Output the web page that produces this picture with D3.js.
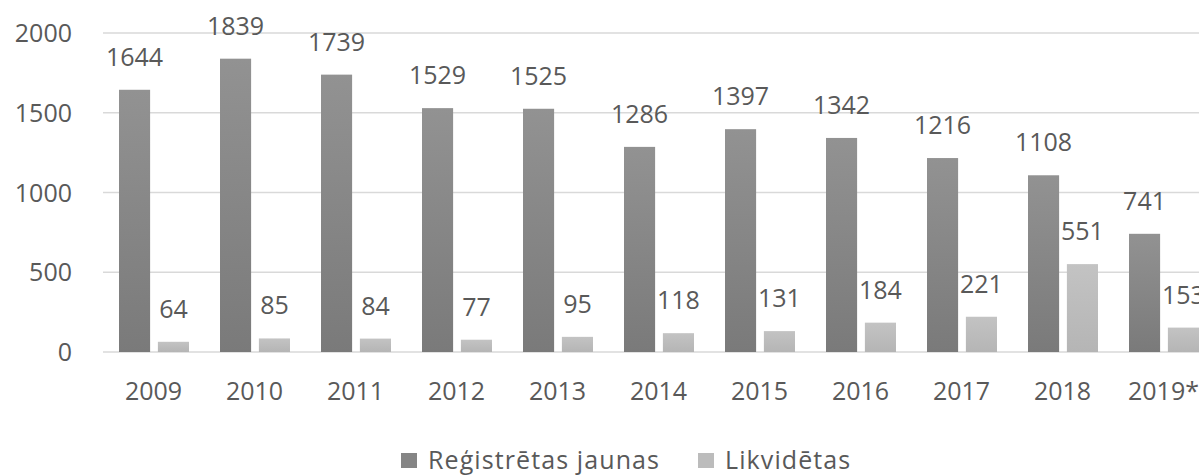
<!DOCTYPE html>
<html>
<head>
<meta charset="utf-8">
<script src="https://cdn.jsdelivr.net/npm/d3@7"></script>
<style>
  html, body { margin: 0; padding: 0; background: #fff; overflow: hidden; }
  svg text { font-family: "Open Sans", "Noto Sans", sans-serif; fill: #595959; }
</style>
</head>
<body>
<svg></svg>
<script>
const years = ['2009', '2010', '2011', '2012', '2013', '2014', '2015', '2016', '2017', '2018', '2019*'];
const registered = [1644, 1839, 1739, 1529, 1525, 1286, 1397, 1342, 1216, 1108, 741];
const liquidated = [64, 85, 84, 77, 95, 118, 131, 184, 221, 551, 153];
const seriesNames = ['Reģistrētas jaunas', 'Likvidētas'];
const yTicks = [0, 500, 1000, 1500, 2000];

const dimensions = {
    width: 1199,
    height: 475,
};

// plot area runs past the right edge, the reference is cropped there
const margin = { left: 103, top: 33, right: 1214, bottom: 352 };

const svg = d3.select('svg').attr('width', dimensions.width).attr('height', dimensions.height);

const defs = svg.append('defs');
function addGradient(id, top, bottom) {
  const g = defs.append('linearGradient').attr('id', id)
    .attr('x1', 0).attr('y1', 0).attr('x2', 0).attr('y2', 1);
  g.append('stop').attr('offset', '0%').attr('stop-color', top);
  g.append('stop').attr('offset', '100%').attr('stop-color', bottom);
}
addGradient('gDark', '#929292', '#7a7a7a');
addGradient('gLight', '#c3c3c3', '#b5b5b5');

const x = d3.scaleBand().domain(years).range([margin.left, margin.right]).paddingInner(0).paddingOuter(0);
const inner = d3.scaleBand().domain([0, 1]).range([16, x.bandwidth() - 15]).paddingInner(0.2);
const y = d3.scaleLinear().domain([0, 2000]).range([margin.bottom, margin.top]);

// gridlines
svg.append('g').selectAll('line').data(yTicks).join('line')
  .attr('x1', margin.left).attr('x2', margin.right)
  .attr('y1', d => y(d)).attr('y2', d => y(d))
  .attr('stroke', '#d9d9d9').attr('stroke-width', 1.5);

// y axis labels
const yAxis = d3.axisLeft(y).tickValues(yTicks).tickFormat(d3.format('d')).tickSize(0).tickPadding(0);
const yG = svg.append('g').attr('transform', 'translate(72,0)').call(yAxis);
yG.select('.domain').remove();
yG.selectAll('text').style('font-size', '25px').attr('dy', '0.34em');

// x axis labels
const xAxis = d3.axisBottom(x).tickSize(0).tickPadding(0);
const xG = svg.append('g').attr('transform', 'translate(0,' + margin.bottom + ')').call(xAxis);
xG.select('.domain').remove();
xG.selectAll('text').style('font-size', '25px').attr('y', 48).attr('dy', 0);

const series = [
  { values: registered, fill: 'url(#gDark)', swatch: '#858585' },
  { values: liquidated, fill: 'url(#gLight)', swatch: '#bcbcbc' },
];

series.forEach((s, si) => {
  const g = svg.append('g');
  g.selectAll('rect').data(s.values).join('rect')
    .attr('x', (d, i) => x(years[i]) + inner(si))
    .attr('width', inner.bandwidth())
    .attr('y', d => y(d))
    .attr('height', d => y(0) - y(d))
    .attr('fill', s.fill);
  g.selectAll('text').data(s.values).join('text')
    .attr('x', (d, i) => x(years[i]) + inner(si) + inner.bandwidth() / 2)
    .attr('y', d => y(d) - 24)
    .attr('text-anchor', 'middle')
    .style('font-size', '25px')
    .text(d => d);
});

// legend
const legend = svg.append('g').attr('transform', 'translate(401,0)');
const legendX = [0, 297];
seriesNames.forEach((name, i) => {
  legend.append('rect').attr('x', legendX[i]).attr('y', 453).attr('width', 16).attr('height', 15)
    .attr('fill', series[i].swatch);
  legend.append('text').attr('x', legendX[i] + 27).attr('y', 469)
    .style('font-size', '25px').style('letter-spacing', '1.1px')
    .text(name);
});
</script>
</body>
</html>
